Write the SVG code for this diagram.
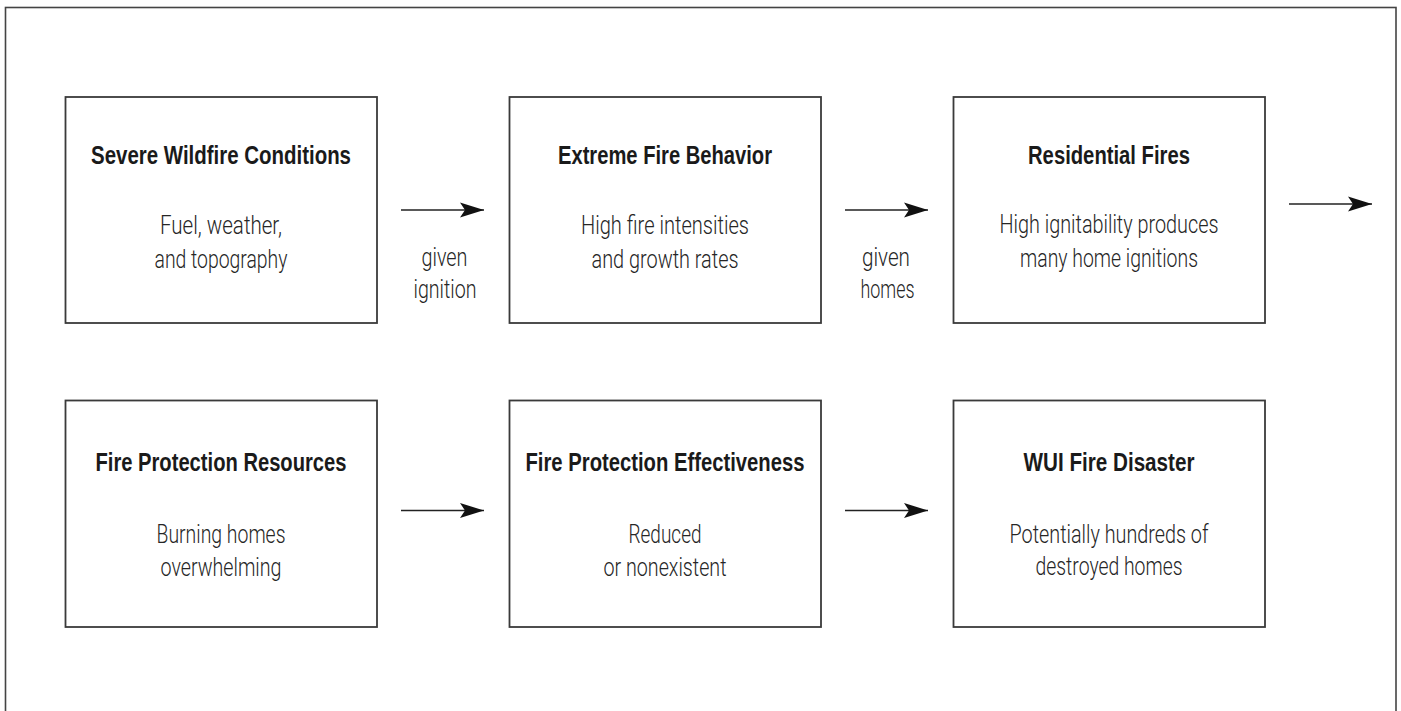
<svg xmlns="http://www.w3.org/2000/svg" width="1401" height="711" viewBox="0 0 1401 711">
<style>
.frame{fill:none;stroke:#444;stroke-width:1.6}
.box{fill:#fff;stroke:#3a3a3a;stroke-width:1.8}
.title{font-family:"Liberation Sans Narrow","Liberation Sans",Arial,sans-serif;font-weight:700;font-size:25px;fill:#1a1a1a;text-anchor:middle}
.sub{font-family:Roboto,"Liberation Sans",Arial,sans-serif;font-weight:300;font-size:25px;fill:#262626;text-anchor:middle}
.conn{stroke:#222;stroke-width:1.6;fill:none}
</style>
<defs>
<marker id="ah" viewBox="0 0 24 16" refX="24" refY="8" markerWidth="24" markerHeight="16" markerUnits="userSpaceOnUse" orient="auto">
<path d="M0,0.5 L24,8 L0,15.5 L5,8 Z" fill="#111"/>
</marker>
</defs>
<rect width="1401" height="711" fill="#fff"/>
<rect class="frame" x="5.5" y="7.5" width="1390.5" height="720"/>

<g id="n1">
<rect class="box" x="65.5" y="97" width="311.5" height="226"/>
<text class="title" x="221" y="163.5" textLength="260" lengthAdjust="spacingAndGlyphs">Severe Wildfire Conditions</text>
<text class="sub" x="221" y="233.5" textLength="122" lengthAdjust="spacingAndGlyphs">Fuel, weather,</text>
<text class="sub" x="221" y="267.5" textLength="133" lengthAdjust="spacingAndGlyphs">and topography</text>
</g>
<g id="n2">
<rect class="box" x="509.5" y="97" width="311.5" height="226"/>
<text class="title" x="665" y="163.5" textLength="214" lengthAdjust="spacingAndGlyphs">Extreme Fire Behavior</text>
<text class="sub" x="665" y="233.5" textLength="168" lengthAdjust="spacingAndGlyphs">High fire intensities</text>
<text class="sub" x="665" y="267.5" textLength="147" lengthAdjust="spacingAndGlyphs">and growth rates</text>
</g>
<g id="n3">
<rect class="box" x="953.5" y="97" width="311.5" height="226"/>
<text class="title" x="1109" y="163.5" textLength="162" lengthAdjust="spacingAndGlyphs">Residential Fires</text>
<text class="sub" x="1109" y="232.5" textLength="219" lengthAdjust="spacingAndGlyphs">High ignitability produces</text>
<text class="sub" x="1109" y="267" textLength="178" lengthAdjust="spacingAndGlyphs">many home ignitions</text>
</g>
<g id="n4">
<rect class="box" x="65.5" y="400.5" width="311.5" height="226.5"/>
<text class="title" x="221" y="471" textLength="251" lengthAdjust="spacingAndGlyphs">Fire Protection Resources</text>
<text class="sub" x="221" y="542.5" textLength="129" lengthAdjust="spacingAndGlyphs">Burning homes</text>
<text class="sub" x="221" y="575.5" textLength="121" lengthAdjust="spacingAndGlyphs">overwhelming</text>
</g>
<g id="n5">
<rect class="box" x="509.5" y="400.5" width="311.5" height="226.5"/>
<text class="title" x="665" y="471" textLength="279" lengthAdjust="spacingAndGlyphs">Fire Protection Effectiveness</text>
<text class="sub" x="665" y="542.5" textLength="73" lengthAdjust="spacingAndGlyphs">Reduced</text>
<text class="sub" x="665" y="575.5" textLength="123" lengthAdjust="spacingAndGlyphs">or nonexistent</text>
</g>
<g id="n6">
<rect class="box" x="953.5" y="400.5" width="311.5" height="226.5"/>
<text class="title" x="1109" y="471" textLength="171" lengthAdjust="spacingAndGlyphs">WUI Fire Disaster</text>
<text class="sub" x="1109" y="542.5" textLength="199" lengthAdjust="spacingAndGlyphs">Potentially hundreds of</text>
<text class="sub" x="1109" y="574.5" textLength="147" lengthAdjust="spacingAndGlyphs">destroyed homes</text>
</g>

<g id="connectors">
<line class="conn" x1="401" y1="210" x2="484" y2="210" marker-end="url(#ah)"/>
<line class="conn" x1="845" y1="210" x2="928" y2="210" marker-end="url(#ah)"/>
<line class="conn" x1="1289" y1="204" x2="1372" y2="204" marker-end="url(#ah)"/>
<line class="conn" x1="401" y1="510.5" x2="484" y2="510.5" marker-end="url(#ah)"/>
<line class="conn" x1="845" y1="510.5" x2="928" y2="510.5" marker-end="url(#ah)"/>
<text class="sub" x="444.5" y="266" textLength="46" lengthAdjust="spacingAndGlyphs">given</text>
<text class="sub" x="445" y="298" textLength="63" lengthAdjust="spacingAndGlyphs">ignition</text>
<text class="sub" x="886" y="266" textLength="48" lengthAdjust="spacingAndGlyphs">given</text>
<text class="sub" x="887.5" y="298" textLength="54" lengthAdjust="spacingAndGlyphs">homes</text>
</g>
</svg>
